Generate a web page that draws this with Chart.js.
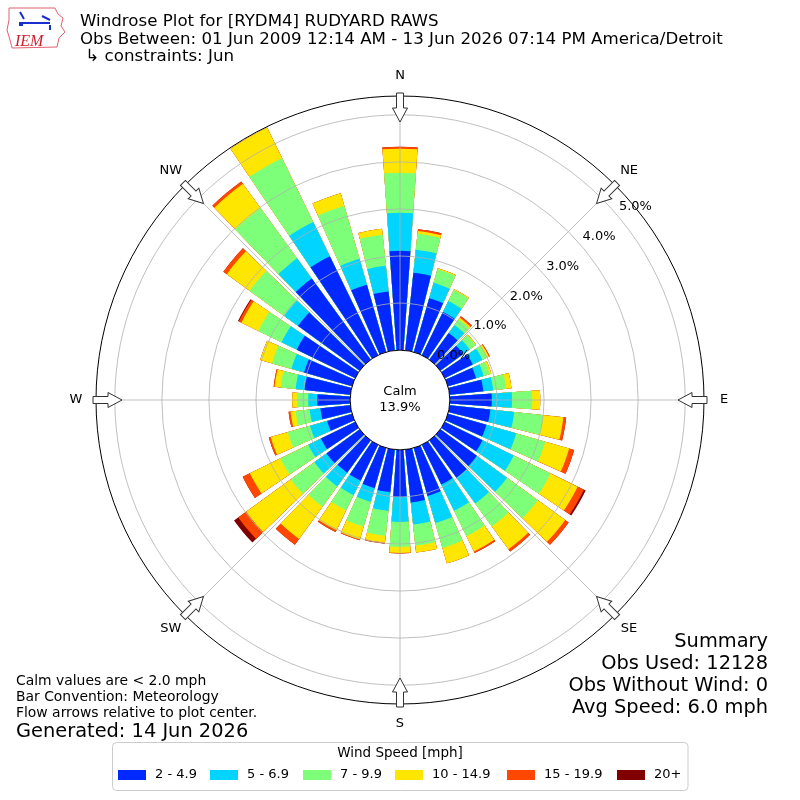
<!DOCTYPE html>
<html lang="en">
<head>
    <meta charset="UTF-8">
    <meta name="viewport" content="width=device-width, initial-scale=1.0">
    <title>Windrose Plot for [RYDM4] RUDYARD RAWS</title>
    <script src="https://cdn.jsdelivr.net/npm/chart.js"></script>
    <style>
        html, body { margin: 0; padding: 0; background: #fff; }
        canvas { display: block; }
    </style>
</head>
<body>
    <canvas id="chart" width="800" height="800"></canvas>
    <script>
        // direction bins (degrees, meteorological), 10 degree sectors
        const directions = [0, 10, 20, 30, 40, 50, 60, 70, 80, 90, 100, 110,
                            120, 130, 140, 150, 160, 170, 180, 190, 200, 210, 220, 230,
                            240, 250, 260, 270, 280, 290, 300, 310, 320, 330, 340, 350];
        const compassLabels = ['N', 'NE', 'E', 'SE', 'S', 'SW', 'W', 'NW'];
        const speedBins = ['2 - 4.9', '5 - 6.9', '7 - 9.9', '10 - 14.9', '15 - 19.9', '20+'];
        const binColors = ['#0028ff', '#00d4ff', '#7dff7a', '#ffe600', '#ff4700', '#800000'];

        // percent of observations per direction, one list per speed bin
        const pct2to5   = [2.11, 1.66, 1.19, 1.02, 0.70, 0.60, 0.66, 0.62, 0.72, 0.89, 0.87, 0.85,
                           0.89, 0.96, 0.98, 0.94, 1.06, 1.13, 1.00, 0.91, 0.89, 0.85, 0.85, 0.87,
                           0.81, 0.55, 0.64, 0.70, 0.98, 1.06, 1.38, 1.62, 2.13, 2.34, 1.49, 1.26];
        const pct5to7   = [0.81, 0.49, 0.34, 0.26, 0.21, 0.17, 0.23, 0.17, 0.21, 0.43, 0.51, 0.66,
                           0.74, 0.79, 0.68, 0.62, 0.60, 0.47, 0.53, 0.40, 0.30, 0.34, 0.36, 0.32,
                           0.30, 0.38, 0.23, 0.19, 0.19, 0.28, 0.36, 0.36, 0.53, 0.81, 0.57, 0.55];
        const pct7to10  = [0.85, 0.34, 0.30, 0.26, 0.15, 0.15, 0.11, 0.13, 0.28, 0.43, 0.62, 0.64,
                           0.87, 0.81, 0.60, 0.60, 0.55, 0.45, 0.53, 0.53, 0.55, 0.36, 0.53, 0.62,
                           0.66, 0.49, 0.30, 0.23, 0.32, 0.43, 0.55, 0.91, 1.32, 1.51, 1.17, 0.66];
        const pct10to15 = [0.51, 0.06, 0.02, 0.02, 0.04, 0.02, 0.04, 0.04, 0.11, 0.17, 0.43, 0.53,
                           0.64, 0.72, 0.60, 0.36, 0.34, 0.15, 0.13, 0.15, 0.28, 0.47, 0.85, 1.17,
                           0.72, 0.38, 0.11, 0.11, 0.13, 0.26, 0.40, 0.60, 0.64, 0.72, 0.28, 0.13];
        const pct15to20 = [0.04, 0.04, 0.00, 0.00, 0.04, 0.00, 0.02, 0.00, 0.00, 0.00, 0.06, 0.11,
                           0.15, 0.09, 0.06, 0.04, 0.00, 0.00, 0.01, 0.02, 0.02, 0.04, 0.15, 0.21,
                           0.17, 0.04, 0.04, 0.00, 0.02, 0.00, 0.06, 0.09, 0.06, 0.00, 0.00, 0.00];
        const pct20up   = [0.00, 0.00, 0.00, 0.00, 0.00, 0.00, 0.00, 0.00, 0.00, 0.00, 0.00, 0.00,
                           0.04, 0.00, 0.00, 0.00, 0.00, 0.00, 0.00, 0.00, 0.00, 0.00, 0.00, 0.11,
                           0.00, 0.00, 0.00, 0.00, 0.00, 0.00, 0.02, 0.00, 0.00, 0.00, 0.00, 0.00];
        const calmPct = 13.9;
        const ringTicks = [0, 1, 2, 3, 4, 5];

        const titleLines = ['Windrose Plot for [RYDM4] RUDYARD RAWS',
                            'Obs Between: 01 Jun 2009 12:14 AM - 13 Jun 2026 07:14 PM America/Detroit',
                            ' \u21b3 constraints: Jun'];
        const noteLines = ['Calm values are < 2.0 mph', 'Bar Convention: Meteorology',
                           'Flow arrows relative to plot center.'];
        const generated = 'Generated: 14 Jun 2026';
        const summaryLines = ['Summary', 'Obs Used: 12128', 'Obs Without Wind: 0', 'Avg Speed: 6.0 mph'];

        const rMin = -1.06;   // calm circle sits below 0 %
        const rMax = 5.40;
        const barAngle = 8;   // degrees of each 10 degree sector that is filled

        // stack the speed bins: each dataset is the cumulative total up to its bin
        const bins = [pct2to5, pct5to7, pct7to10, pct10to15, pct15to20, pct20up];
        const cumulative = [];
        bins.forEach((b, k) => {
            cumulative.push(b.map((v, i) => v + (k > 0 ? cumulative[k - 1][i] : 0)));
        });

        // every sector is followed by a thin empty gap element
        const labels = [];
        directions.forEach(d => { labels.push(d + '\u00b0'); labels.push(''); });

        const datasets = cumulative.map((cum, k) => {
            const data = [];
            cum.forEach(v => { data.push(v); data.push(0); });
            return {
                label           : speedBins[k],
                data            : data,
                backgroundColor : (c) => c.dataIndex % 2 ? 'rgba(0,0,0,0)' : binColors[k],
                borderWidth     : 0,
                angle           : (c) => c.dataIndex % 2 ? 10 - barAngle : barAngle
            };
        });

        const font = (size) => size + 'px "DejaVu Sans", sans-serif';

        const windrosePlugin = {
            id: 'windrose',
            afterDraw(chart) {
                const ctx = chart.ctx;
                const sc = chart.scales.r;
                const cx = sc.xCenter, cy = sc.yCenter;
                const rad = (v) => sc.getDistanceFromCenterForValue(v);
                const pt = (deg, d) => {
                    const a = deg * Math.PI / 180;
                    return [cx + d * Math.sin(a), cy - d * Math.cos(a)];
                };
                ctx.save();

                // grid rings and spokes over the bars
                ctx.strokeStyle = '#b0b0b0';
                ctx.lineWidth = 0.8;
                ringTicks.forEach(v => {
                    if (v <= 0) return;
                    ctx.beginPath();
                    ctx.arc(cx, cy, rad(v), 0, 2 * Math.PI);
                    ctx.stroke();
                });
                for (let k = 0; k < 8; k++) {
                    const [x0, y0] = pt(k * 45, rad(0));
                    const [x1, y1] = pt(k * 45, rad(rMax));
                    ctx.beginPath();
                    ctx.moveTo(x0, y0);
                    ctx.lineTo(x1, y1);
                    ctx.stroke();
                }
                ctx.strokeStyle = '#000';
                ctx.lineWidth = 1;
                ctx.beginPath();
                ctx.arc(cx, cy, rad(rMax), 0, 2 * Math.PI);
                ctx.stroke();

                // calm circle
                ctx.fillStyle = '#fff';
                ctx.beginPath();
                ctx.arc(cx, cy, rad(0), 0, 2 * Math.PI);
                ctx.fill();
                ctx.stroke();
                ctx.fillStyle = '#000';
                ctx.font = font(13);
                ctx.textAlign = 'center';
                ctx.textBaseline = 'middle';
                ctx.fillText('Calm', cx, cy - 8);
                ctx.fillText(calmPct.toFixed(1) + '%', cx, cy + 8);

                // radial tick labels
                ringTicks.forEach(v => {
                    const [x, y] = pt(50.6, rad(v) + 19.5);
                    ctx.fillText(v.toFixed(1) + '%', x, y);
                });

                // compass labels and inward flow arrows
                compassLabels.forEach((lab, k) => {
                    const [x, y] = pt(k * 45, rad(rMax) + 20);
                    ctx.fillStyle = '#000';
                    ctx.fillText(lab, x, y);

                    const tail = rad(rMax) + 3, tip = tail - 29, neck = tip + 14;
                    ctx.save();
                    ctx.translate(cx, cy);
                    ctx.rotate(k * Math.PI / 4);
                    ctx.beginPath();
                    ctx.moveTo(-3.5, -tail);
                    ctx.lineTo(3.5, -tail);
                    ctx.lineTo(3.5, -neck);
                    ctx.lineTo(7.5, -neck);
                    ctx.lineTo(0, -tip);
                    ctx.lineTo(-7.5, -neck);
                    ctx.lineTo(-3.5, -neck);
                    ctx.closePath();
                    ctx.fillStyle = '#fff';
                    ctx.fill();
                    ctx.strokeStyle = '#333';
                    ctx.lineWidth = 1;
                    ctx.stroke();
                    ctx.restore();
                });

                // titles
                ctx.fillStyle = '#000';
                ctx.textAlign = 'left';
                ctx.textBaseline = 'alphabetic';
                ctx.font = font(16.67);
                titleLines.forEach((t, i) => ctx.fillText(t, 80, 26 + i * 17.5));

                // notes bottom left
                ctx.font = font(13.9);
                noteLines.forEach((t, i) => ctx.fillText(t, 16, 685 + i * 16));
                ctx.font = font(19.4);
                ctx.fillText(generated, 16, 737);

                // summary bottom right
                ctx.textAlign = 'right';
                summaryLines.forEach((t, i) => ctx.fillText(t, 768, 647 + i * 22));

                // IEM logo
                ctx.strokeStyle = '#e06070';
                ctx.lineWidth = 1;
                ctx.beginPath();
                ctx.moveTo(9, 8); ctx.lineTo(55, 8); ctx.lineTo(58, 14); ctx.lineTo(63, 18);
                ctx.lineTo(61, 26); ctx.lineTo(65, 32); ctx.lineTo(59, 38); ctx.lineTo(57, 47);
                ctx.lineTo(12, 48); ctx.lineTo(10, 40); ctx.lineTo(7, 30); ctx.lineTo(9, 20);
                ctx.closePath();
                ctx.stroke();
                ctx.strokeStyle = '#1a2fd0';
                ctx.lineWidth = 2;
                ctx.beginPath();
                ctx.moveTo(22, 23); ctx.lineTo(50, 23);
                ctx.moveTo(20, 12); ctx.lineTo(24, 19);
                ctx.moveTo(42, 16); ctx.lineTo(50, 20);
                ctx.stroke();
                ctx.fillStyle = '#1a2fd0';
                ctx.fillRect(19, 22, 4, 4);
                ctx.fillRect(49, 25, 2, 5);
                ctx.fillStyle = '#d02030';
                ctx.textAlign = 'left';
                ctx.font = 'italic 16px "Liberation Serif", serif';
                ctx.fillText('IEM', 15, 46);

                // legend
                const lx = 112.5, ly = 742.5, lw = 575.5, lh = 48;
                ctx.fillStyle = '#fff';
                ctx.strokeStyle = '#cccccc';
                ctx.lineWidth = 1;
                ctx.beginPath();
                ctx.roundRect(lx, ly, lw, lh, 4);
                ctx.fill();
                ctx.stroke();
                ctx.fillStyle = '#000';
                ctx.font = font(13.5);
                ctx.textAlign = 'center';
                ctx.textBaseline = 'middle';
                ctx.fillText('Wind Speed [mph]', 400, 753);
                const itemX = [118, 210, 303, 395, 507, 617];
                ctx.font = font(13);
                ctx.textAlign = 'left';
                speedBins.forEach((lab, k) => {
                    ctx.fillStyle = binColors[k];
                    ctx.fillRect(itemX[k], 770, 28, 10);
                    ctx.fillStyle = '#000';
                    ctx.fillText(lab, itemX[k] + 37, 775);
                });

                ctx.restore();
            }
        };

        const ctx = document.getElementById('chart').getContext('2d');

        new Chart(ctx, {
            type: 'polarArea',
            data: { labels: labels, datasets: datasets },
            options: {
                responsive : false,
                animation  : false,
                layout     : { padding: 96 },
                plugins    : { legend: { display: false }, tooltip: { enabled: false } },
                scales     : {
                    r: {
                        min         : rMin,
                        max         : rMax,
                        startAngle  : -barAngle / 2,
                        grid        : { display: false },
                        angleLines  : { display: false },
                        ticks       : { display: false },
                        pointLabels : { display: false }
                    }
                }
            },
            plugins: [windrosePlugin]
        });
    </script>
</body>
</html>
